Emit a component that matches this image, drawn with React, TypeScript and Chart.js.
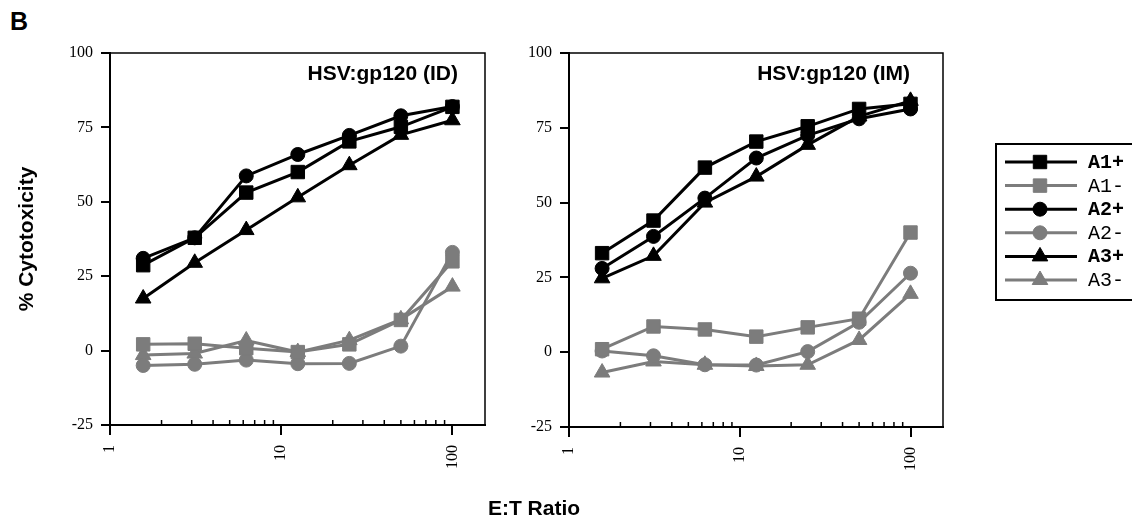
import React, { useEffect, useRef } from 'react';
import { Chart, registerables } from 'chart.js';

Chart.register(...registerables);

// ---------------- data ----------------
const ET_RATIO = [1.5625, 3.125, 6.25, 12.5, 25, 50, 100];
const SERIES_NAMES = ['A1+', 'A1-', 'A2+', 'A2-', 'A3+', 'A3-'];

const ID_A1_POS = [28.7, 37.9, 53.1, 60.0, 70.3, 75.2, 81.9];
const ID_A1_NEG = [2.1, 2.3, 0.8, -0.5, 2.1, 10.3, 30.0];
const ID_A2_POS = [31.0, 37.9, 58.7, 65.9, 72.3, 78.9, 82.0];
const ID_A2_NEG = [-5.0, -4.6, -3.2, -4.4, -4.3, 1.5, 33.0];
const ID_A3_POS = [17.5, 29.5, 40.5, 51.5, 62.3, 72.5, 77.4];
const ID_A3_NEG = [-1.5, -1.0, 3.4, -0.5, 3.5, 10.5, 21.5];

const IM_A1_POS = [33.1, 44.0, 61.7, 70.4, 75.5, 81.3, 83.0];
const IM_A1_NEG = [1.0, 8.6, 7.6, 5.2, 8.3, 11.2, 40.0];
const IM_A2_POS = [28.0, 38.7, 51.5, 64.9, 72.5, 78.0, 81.3];
const IM_A2_NEG = [0.4, -1.2, -4.2, -4.3, 0.2, 10.0, 26.4];
const IM_A3_POS = [24.7, 32.2, 50.0, 58.7, 69.3, 78.8, 84.0];
const IM_A3_NEG = [-6.8, -3.1, -4.2, -4.6, -4.2, 4.1, 19.5];

const PANEL_TITLES = ['HSV:gp120 (ID)', 'HSV:gp120 (IM)'];
const Y_TITLE = '% Cytotoxicity';
const X_TITLE = 'E:T Ratio';
const PANEL_LETTER = 'B';

const Y_TICKS = [-25, 0, 25, 50, 75, 100];
const X_MAJOR_TICKS = [1, 10, 100];
const X_MINOR_TICKS = [2, 3, 4, 5, 6, 7, 8, 9, 20, 30, 40, 50, 60, 70, 80, 90];

// ---------------- styles ----------------
const BLACK = '#000000';
const GRAY = '#7c7c7c';
const SHAPES = ['rect', 'rect', 'circle', 'circle', 'triangle', 'triangle'];
const RADII: Record<string, number> = { rect: 9.5, circle: 7, triangle: 9 };
const SERIF = "'Liberation Serif', 'Times New Roman', serif";
const SANS = "'Liberation Sans', Arial, sans-serif";
const MONO = "'Liberation Mono', 'Courier New', monospace";

function buildDatasets(series: number[][]) {
  return series.map((vals, i) => {
    const pos = i % 2 === 0;
    const color = pos ? BLACK : GRAY;
    const shape = SHAPES[i];
    return {
      label: SERIES_NAMES[i],
      data: ET_RATIO.map((x, j) => ({ x, y: vals[j] })),
      borderColor: color,
      backgroundColor: color,
      borderWidth: 3,
      pointStyle: shape,
      pointRadius: RADII[shape],
      pointHoverRadius: RADII[shape],
      pointBorderWidth: 1,
      pointBorderColor: color,
      pointBackgroundColor: color,
      tension: 0,
      clip: false as any,
    };
  });
}

function drawMarker(ctx: CanvasRenderingContext2D, shape: string, x: number, y: number, r: number) {
  ctx.beginPath();
  if (shape === 'rect') {
    const s = Math.SQRT1_2 * r;
    ctx.rect(x - s, y - s, 2 * s, 2 * s);
  } else if (shape === 'circle') {
    ctx.arc(x, y, r, 0, Math.PI * 2);
  } else {
    ctx.moveTo(x, y - r);
    ctx.lineTo(x + Math.sin((2 * Math.PI) / 3) * r, y + r / 2);
    ctx.lineTo(x - Math.sin((2 * Math.PI) / 3) * r, y + r / 2);
    ctx.closePath();
  }
  ctx.fill();
  ctx.stroke();
}

const decorPlugin = {
  id: 'panelDecor',
  afterDraw(chart: any, _args: any, opts: any) {
    const ctx: CanvasRenderingContext2D = chart.ctx;
    const { left, right, top, bottom } = chart.chartArea;
    ctx.save();
    // frame top & right
    ctx.strokeStyle = BLACK;
    ctx.lineWidth = 1.5;
    ctx.beginPath();
    ctx.moveTo(left, top);
    ctx.lineTo(right, top);
    ctx.lineTo(right, bottom);
    ctx.stroke();
    // minor ticks (inside)
    const xs = chart.scales.x;
    ctx.lineWidth = 1.5;
    X_MINOR_TICKS.forEach((v) => {
      const px = xs.getPixelForValue(v);
      ctx.beginPath();
      ctx.moveTo(px, bottom);
      ctx.lineTo(px, bottom - 5);
      ctx.stroke();
    });
    // panel title
    ctx.fillStyle = BLACK;
    ctx.font = `bold 21px ${SANS}`;
    ctx.textAlign = 'right';
    ctx.textBaseline = 'alphabetic';
    ctx.fillText(opts.title, right - opts.titleInset, top + 27);

    // legend
    if (opts.legend) {
      const lx = opts.legendX;
      const ly = opts.legendY;
      ctx.lineWidth = 2;
      ctx.strokeStyle = BLACK;
      ctx.strokeRect(lx, ly, 200, 156);
      chart.data.datasets.forEach((ds: any, i: number) => {
        const cy = ly + 18 + i * 23.6;
        ctx.strokeStyle = ds.borderColor;
        ctx.fillStyle = ds.backgroundColor;
        ctx.lineWidth = ds.borderWidth;
        ctx.beginPath();
        ctx.moveTo(lx + 9, cy);
        ctx.lineTo(lx + 81, cy);
        ctx.stroke();
        ctx.lineWidth = 1;
        drawMarker(ctx, ds.pointStyle, lx + 44, cy, ds.pointRadius);
        ctx.fillStyle = BLACK;
        ctx.font = `${i % 2 === 0 ? 'bold ' : ''}20px ${MONO}`;
        ctx.textAlign = 'left';
        ctx.textBaseline = 'middle';
        ctx.fillText(ds.label, lx + 92, cy + 1);
      });
    }
    ctx.restore();
  },
};

function makeConfig(p: {
  series: number[][];
  title: string;
  titleInset: number;
  yWidth: number;
  xHeight: number;
  padRight: number;
  showYTitle: boolean;
  legend: boolean;
  legendX?: number;
  legendY?: number;
}): any {
  return {
    type: 'line',
    data: { datasets: buildDatasets(p.series) },
    plugins: [decorPlugin],
    options: {
      responsive: false,
      animation: false,
      events: [],
      layout: { padding: { left: 0, top: 53, right: p.padRight, bottom: 0 } },
      plugins: {
        legend: { display: false },
        tooltip: { enabled: false },
        title: { display: false },
        panelDecor: {
          title: p.title,
          titleInset: p.titleInset,
          legend: p.legend,
          legendX: p.legendX,
          legendY: p.legendY,
        },
      },
      scales: {
        x: {
          type: 'logarithmic',
          min: 1,
          max: 155,
          afterBuildTicks: (scale: any) => {
            scale.ticks = X_MAJOR_TICKS.map((v) => ({ value: v, major: true }));
          },
          afterFit: (scale: any) => {
            scale.height = p.xHeight;
          },
          ticks: {
            autoSkip: false,
            minRotation: 90,
            maxRotation: 90,
            padding: 10,
            color: BLACK,
            font: { family: SERIF, size: 16 },
            callback: (v: any) => String(v),
          },
          grid: {
            display: true,
            drawOnChartArea: false,
            drawTicks: true,
            tickLength: 10,
            color: BLACK,
            lineWidth: 2,
          },
          border: { display: true, color: BLACK, width: 2 },
        },
        y: {
          type: 'linear',
          min: -25,
          max: 100,
          afterBuildTicks: (scale: any) => {
            scale.ticks = Y_TICKS.map((v) => ({ value: v }));
          },
          afterFit: (scale: any) => {
            scale.width = p.yWidth;
          },
          ticks: {
            padding: 8,
            color: BLACK,
            font: { family: SERIF, size: 16 },
            callback: (v: any) => String(v),
          },
          grid: {
            display: true,
            drawOnChartArea: false,
            drawTicks: true,
            tickLength: 9,
            color: BLACK,
            lineWidth: 2,
          },
          border: { display: true, color: BLACK, width: 2 },
          title: {
            display: p.showYTitle,
            text: Y_TITLE,
            color: BLACK,
            font: { family: SANS, size: 21, weight: 'bold' },
            padding: { top: 15, bottom: 0 },
          },
        },
      },
    },
  };
}

export default function App() {
  const leftRef = useRef<HTMLCanvasElement>(null);
  const rightRef = useRef<HTMLCanvasElement>(null);

  useEffect(() => {
    document.body.style.margin = '0';
    const c1 = new Chart(
      leftRef.current as HTMLCanvasElement,
      makeConfig({
        series: [ID_A1_POS, ID_A1_NEG, ID_A2_POS, ID_A2_NEG, ID_A3_POS, ID_A3_NEG],
        title: PANEL_TITLES[0],
        titleInset: 27,
        yWidth: 110,
        xHeight: 92,
        padRight: 15,
        showYTitle: true,
        legend: false,
      })
    );
    const c2 = new Chart(
      rightRef.current as HTMLCanvasElement,
      makeConfig({
        series: [IM_A1_POS, IM_A1_NEG, IM_A2_POS, IM_A2_NEG, IM_A3_POS, IM_A3_NEG],
        title: PANEL_TITLES[1],
        titleInset: 33,
        yWidth: 69,
        xHeight: 90,
        padRight: 189,
        showYTitle: false,
        legend: true,
        legendX: 496,
        legendY: 144,
      })
    );
    return () => {
      c1.destroy();
      c2.destroy();
    };
  }, []);

  return (
    <div style={{ position: 'relative', width: 1132, height: 517, background: '#fff', overflow: 'hidden' }}>
      <div
        style={{
          position: 'absolute',
          left: 10,
          top: 9,
          fontFamily: SANS,
          fontWeight: 'bold',
          fontSize: 25,
          lineHeight: '25px',
        }}
      >
        {PANEL_LETTER}
      </div>
      <canvas ref={leftRef} width={500} height={517} style={{ position: 'absolute', left: 0, top: 0, width: 500, height: 517 }} />
      <canvas ref={rightRef} width={632} height={517} style={{ position: 'absolute', left: 500, top: 0, width: 632, height: 517 }} />
      <div
        style={{
          position: 'absolute',
          left: 434,
          top: 497,
          width: 200,
          textAlign: 'center',
          fontFamily: SANS,
          fontWeight: 'bold',
          fontSize: 21,
          lineHeight: '21px',
        }}
      >
        {X_TITLE}
      </div>
    </div>
  );
}
